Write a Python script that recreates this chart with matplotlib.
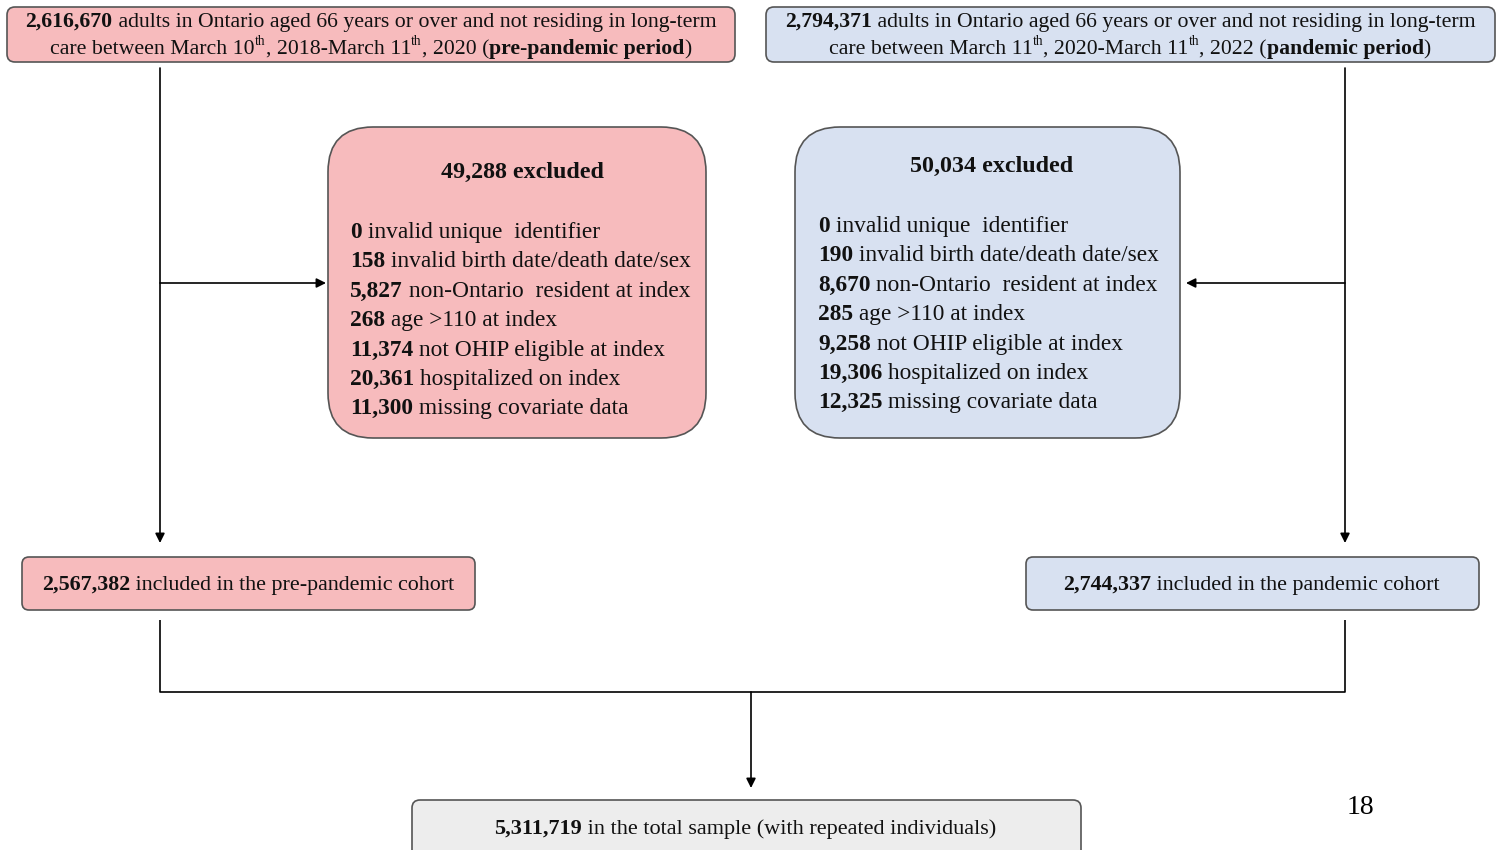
"""
Cohort flow diagram: pre-pandemic vs pandemic cohorts of older adults in Ontario.
"""

import matplotlib.pyplot as plt
from matplotlib.patches import FancyBboxPatch


# =============================================================================
# DATA
# =============================================================================

PRE_TOTAL = '2,616,670'
PAN_TOTAL = '2,794,371'
PRE_PERIOD = ['March 10', '2018-March 11', '2020']
PAN_PERIOD = ['March 11', '2020-March 11', '2022']

PRE_EXCLUDED = '49,288'
PAN_EXCLUDED = '50,034'
EXCL_REASONS = [
    'invalid unique  identifier',
    'invalid birth date/death date/sex',
    'non-Ontario  resident at index',
    'age >110 at index',
    'not OHIP eligible at index',
    'hospitalized on index',
    'missing covariate data',
]
PRE_EXCL_COUNTS = ['0', '158', '5,827', '268', '11,374', '20,361', '11,300']
PAN_EXCL_COUNTS = ['0', '190', '8,670', '285', '9,258', '19,306', '12,325']

PRE_INCLUDED = '2,567,382'
PAN_INCLUDED = '2,744,337'
TOTAL_SAMPLE = '5,311,719'
PAGE_NUMBER = '18'


# =============================================================================
# STYLE
# =============================================================================

FONT = 'Liberation Serif'
PINK = '#F7BBBD'
BLUE = '#D8E1F1'
GREY = '#EDEDED'
EDGE = '#555555'
W, H = 1504, 850


def text_width(ax, renderer, s, size, bold):
    kw = dict(fontsize=size, fontweight='bold' if bold else 'normal', family=FONT)
    t1 = ax.text(0, 0, '|' + s + '|', **kw)
    t2 = ax.text(0, 0, '||', **kw)
    w = t1.get_window_extent(renderer).width - t2.get_window_extent(renderer).width
    t1.remove()
    t2.remove()
    return w


def draw_runs(ax, renderer, x, y, runs, size, align='center'):
    """Draw a line made of (text, style) runs; style 'b' bold, 'r' regular, 's' superscript."""
    sizes = [size * 0.62 if st == 's' else size for _, st in runs]
    widths = [text_width(ax, renderer, s, sz, st == 'b')
              for (s, st), sz in zip(runs, sizes)]
    x0 = x - sum(widths) / 2 if align == 'center' else x
    for (s, st), sz, w in zip(runs, sizes, widths):
        yy = y - size * 0.55 if st == 's' else y
        ax.text(x0, yy, s, fontsize=sz, family=FONT, va='baseline', ha='left',
                fontweight='bold' if st == 'b' else 'normal', color='#111111')
        x0 += w


def box(ax, x0, y0, x1, y1, color, radius):
    ax.add_patch(FancyBboxPatch((x0, y0), x1 - x0, y1 - y0,
                                boxstyle=f'round,pad=0,rounding_size={radius}',
                                facecolor=color, edgecolor=EDGE, linewidth=1.2))


def arrow(ax, start, end):
    ax.annotate('', xy=end, xytext=start,
                arrowprops=dict(arrowstyle='-|>', color='black', lw=1.2,
                                mutation_scale=14, shrinkA=0, shrinkB=0))


def line(ax, xs, ys):
    ax.plot(xs, ys, color='black', lw=1.2, solid_capstyle='butt')


# =============================================================================
# FIGURE
# =============================================================================

fig = plt.figure(figsize=(W / 100, H / 100), dpi=100)
ax = fig.add_axes([0, 0, 1, 1])
ax.set_xlim(0, W)
ax.set_ylim(H, 0)
ax.axis('off')
renderer = fig.canvas.get_renderer()

# boxes
box(ax, 7, 7, 735, 62, PINK, 8)
box(ax, 766, 7, 1495, 62, BLUE, 8)
box(ax, 328, 127, 706, 438, PINK, 45)
box(ax, 795, 127, 1180, 438, BLUE, 45)
box(ax, 22, 557, 475, 610, PINK, 7)
box(ax, 1026, 557, 1479, 610, BLUE, 7)
box(ax, 412, 800, 1081, 880, GREY, 8)

# connectors
arrow(ax, (160, 68), (160, 543))
arrow(ax, (1345, 68), (1345, 543))
arrow(ax, (160, 283), (326, 283))
arrow(ax, (1345, 283), (1186, 283))
line(ax, [160, 160, 1345, 1345], [620, 692, 692, 620])
arrow(ax, (751, 692), (751, 788))

# top boxes
TOP_SIZE = 15.7
for cx, total, period, label in [(371, PRE_TOTAL, PRE_PERIOD, 'pre-pandemic period'),
                                 (1130, PAN_TOTAL, PAN_PERIOD, 'pandemic period')]:
    draw_runs(ax, renderer, cx, 27,
              [(total, 'b'),
               (' adults in Ontario aged 66 years or over and not residing in long-term', 'r')],
              TOP_SIZE)
    draw_runs(ax, renderer, cx, 54,
              [('care between ' + period[0], 'r'), ('th', 's'), (', ' + period[1], 'r'),
               ('th', 's'), (', ' + period[2] + ' (', 'r'), (label, 'b'), (')', 'r')],
              TOP_SIZE)

# exclusion boxes
EX_SIZE = 16.8
for cx, tx, ty, y0, excluded, counts in [(522, 350, 178, 238, PRE_EXCLUDED, PRE_EXCL_COUNTS),
                                         (992, 818, 172, 232, PAN_EXCLUDED, PAN_EXCL_COUNTS)]:
    draw_runs(ax, renderer, cx, ty, [(excluded + ' excluded', 'b')], 17.3)
    for i, (n, reason) in enumerate(zip(counts, EXCL_REASONS)):
        draw_runs(ax, renderer, tx, y0 + i * 29.4, [(n, 'b'), (' ' + reason, 'r')],
                  EX_SIZE, align='left')

# cohort boxes
draw_runs(ax, renderer, 248, 590,
          [(PRE_INCLUDED, 'b'), (' included in the pre-pandemic cohort', 'r')], 15.8)
draw_runs(ax, renderer, 1251, 590,
          [(PAN_INCLUDED, 'b'), (' included in the pandemic cohort', 'r')], 15.8)
draw_runs(ax, renderer, 745, 834,
          [(TOTAL_SAMPLE, 'b'), (' in the total sample (with repeated individuals)', 'r')], 16)

ax.text(1360, 814, PAGE_NUMBER, fontsize=20, family=FONT, ha='center', va='baseline')

fig.savefig('out.png', dpi=100, facecolor='white')
